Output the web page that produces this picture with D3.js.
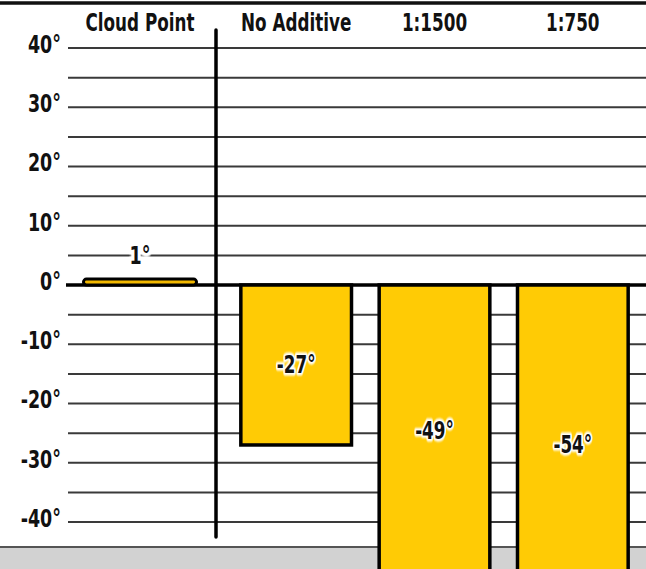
<html>
<head>
<meta charset="UTF-8">
<style>
  body { margin: 0; background: #fff; }
  svg text { font-family: "DejaVu Sans", sans-serif; font-weight: bold; fill: #111; }
  .grid line { stroke: #3a3a3a; stroke-width: 2; }
</style>
<script src="https://cdn.jsdelivr.net/npm/d3@7"></script>
</head>
<body>
<div class="chart"></div>
<script>
// data
var refCategories = ["Cloud Point"];
var refValues = [1];
var categories = ["No Additive", "1:1500", "1:750"];
var values = [-27, -49, -54];
var yTicks = [40, 30, 20, 10, 0, -10, -20, -30, -40];

var width = 646, height = 569;
var squeeze = 0.7; // fake a condensed face

var svg = d3.select(".chart").append("svg")
    .attr("width", width)
    .attr("height", height);

var y = d3.scaleLinear().domain([-40, 40]).range([522, 48]);

var xRef = d3.scaleBand().domain(refCategories).range([68, 212]).paddingInner(0.215).paddingOuter(0.1);
var x = d3.scaleBand().domain(categories).range([227, 642]).paddingInner(0.2).paddingOuter(0.1);

// condensed text helper
function ctext(parent, tx, ty, str, size, anchor, halo) {
  var g = parent.append("g")
      .attr("transform", "translate(" + tx + "," + ty + ") scale(" + squeeze + ",1)");
  if (halo) {
    g.append("text")
      .attr("text-anchor", anchor)
      .attr("dy", "0.35em")
      .style("font-size", size + "px")
      .style("fill", "#fff").style("stroke", "#fff").style("stroke-width", halo)
      .style("stroke-linejoin", "round")
      .style("filter", "blur(1px)")
      .text(str);
  }
  g.append("text")
    .attr("text-anchor", anchor)
    .attr("dy", "0.35em")
    .style("font-size", size + "px")
    .text(str);
}

// top rule
svg.append("line")
    .attr("x1", 0).attr("x2", width)
    .attr("y1", 3).attr("y2", 3)
    .style("stroke", "#111").style("stroke-width", 3.5);

// gray floor
svg.append("rect")
    .attr("x", 0).attr("y", 547)
    .attr("width", width).attr("height", height - 547)
    .style("fill", "#d2d2d2");
svg.append("line")
    .attr("x1", 0).attr("x2", width)
    .attr("y1", 547).attr("y2", 547)
    .style("stroke", "#555").style("stroke-width", 2);

// gridlines every 5 degrees
var grid = d3.range(-40, 41, 5).filter(function(d) { return d !== 0; });
svg.append("g").attr("class", "grid")
  .selectAll("line")
    .data(grid)
  .enter().append("line")
    .attr("x1", 68).attr("x2", width)
    .attr("y1", function(d) { return y(d); })
    .attr("y2", function(d) { return y(d); });

// y axis labels
var ya = svg.append("g");
yTicks.forEach(function(d) {
  ctext(ya, 61, y(d) - 4, d + "°", 25, "end", 0);
});

// zero line
svg.append("line")
    .attr("x1", 66).attr("x2", width)
    .attr("y1", y(0)).attr("y2", y(0))
    .style("stroke", "#000").style("stroke-width", 3.5);

// separator
svg.append("line")
    .attr("x1", 216).attr("x2", 216)
    .attr("y1", 30).attr("y2", 537)
    .style("stroke", "#000").style("stroke-width", 3.5)
    .style("stroke-linecap", "round");

// headers
var heads = svg.append("g");
refCategories.forEach(function(d) {
  ctext(heads, xRef(d) + xRef.bandwidth() / 2, 23, d, 24, "middle", 0);
});
categories.forEach(function(d) {
  ctext(heads, x(d) + x.bandwidth() / 2, 23, d, 24, "middle", 0);
});

// bars
svg.selectAll(".bar-ref")
    .data(refValues)
  .enter().append("rect")
    .attr("x", function(d, i) { return xRef(refCategories[i]); })
    .attr("width", xRef.bandwidth())
    .attr("y", function(d) { return y(d); })
    .attr("height", function(d) { return y(0) - y(d); })
    .attr("rx", 3)
    .style("fill", "#f2b800")
    .style("stroke", "#000").style("stroke-width", 3);

svg.selectAll(".bar")
    .data(values)
  .enter().append("rect")
    .attr("x", function(d, i) { return x(categories[i]); })
    .attr("width", x.bandwidth())
    .attr("y", y(0))
    .attr("height", function(d) { return y(d) - y(0); })
    .style("fill", "#ffcb05")
    .style("stroke", "#000").style("stroke-width", 3.5);

// value labels
var labs = svg.append("g");
refValues.forEach(function(d, i) {
  ctext(labs, xRef(refCategories[i]) + xRef.bandwidth() / 2, y(d + 4), d + "°", 25, "middle", 9);
});
values.forEach(function(d, i) {
  ctext(labs, x(categories[i]) + x.bandwidth() / 2, y(d / 2), d + "°", 24, "middle", 5);
});
</script>
</body>
</html>
